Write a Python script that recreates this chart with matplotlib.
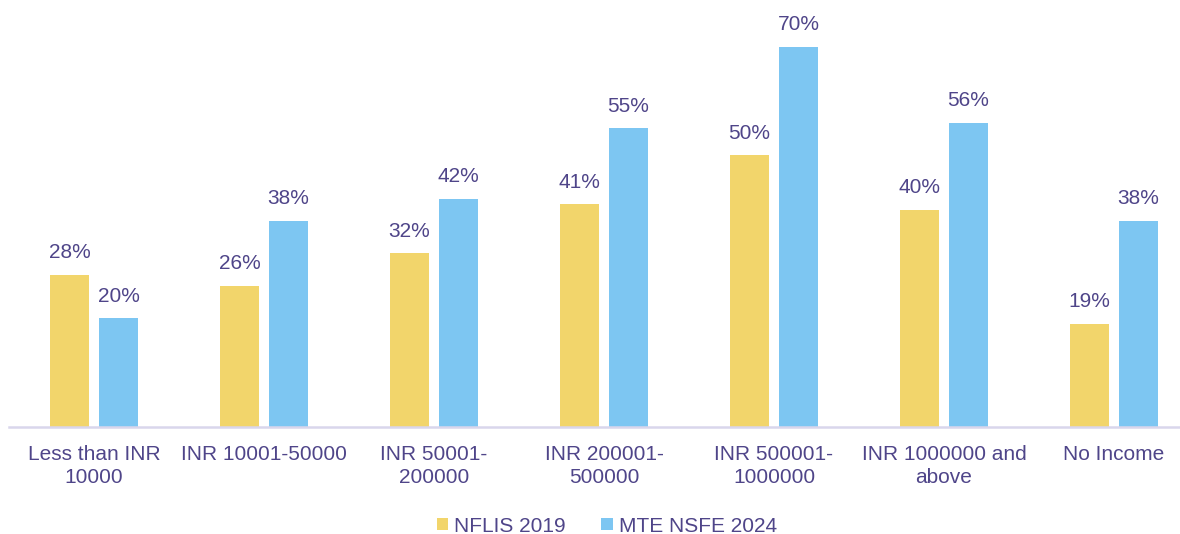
import numpy as np
import matplotlib.pyplot as plt

# data
categories = ['Less than INR\n10000', 'INR 10001-50000', 'INR 50001-\n200000',
              'INR 200001-\n500000', 'INR 500001-\n1000000', 'INR 1000000 and\nabove',
              'No Income']
nflis_2019 = [28, 26, 32, 41, 50, 40, 19]
mte_2024 = [20, 38, 42, 55, 70, 56, 38]

text_col = '#4F4589'
yellow = '#F2D56B'
blue = '#7DC6F2'

plt.rcParams['font.family'] = ['Liberation Sans', 'DejaVu Sans']

fig = plt.figure(figsize=(11.8, 5.34), dpi=100)
ax = fig.add_axes([9 / 1180, 107 / 534, 1190 / 1180, 427 / 534])

x = np.arange(len(categories))
w = 0.224
off = 0.144
b1 = ax.bar(x - off, nflis_2019, w, color=yellow, label='NFLIS 2019')
b2 = ax.bar(x + off, mte_2024, w, color=blue, label='MTE NSFE 2024')

for bars in (b1, b2):
    for r in bars:
        ax.annotate(f'{r.get_height():.0f}%', (r.get_x() + r.get_width() / 2, r.get_height()),
                    xytext=(0, 9), textcoords='offset points', ha='center', va='bottom',
                    fontsize=15, color=text_col)

ax.set_xlim(-0.5, 6.5)
ax.set_ylim(0, 78.6)
ax.set_xticks(x)
ax.set_xticklabels(categories, fontsize=15, color=text_col, linespacing=1.25)
ax.tick_params(axis='x', length=0, pad=13)
ax.set_yticks([])
for s in ['top', 'right', 'left']:
    ax.spines[s].set_visible(False)
ax.spines['bottom'].set_color('#D9D6EC')
ax.spines['bottom'].set_linewidth(1.8)

leg = fig.legend(loc='center', bbox_to_anchor=(607 / 1180, 1 - 526 / 534), ncol=2,
                 frameon=False, fontsize=15, handlelength=0.55, handleheight=0.55,
                 handletextpad=0.3, columnspacing=1.7)
for t in leg.get_texts():
    t.set_color(text_col)

fig.savefig('out.png', dpi=100)
